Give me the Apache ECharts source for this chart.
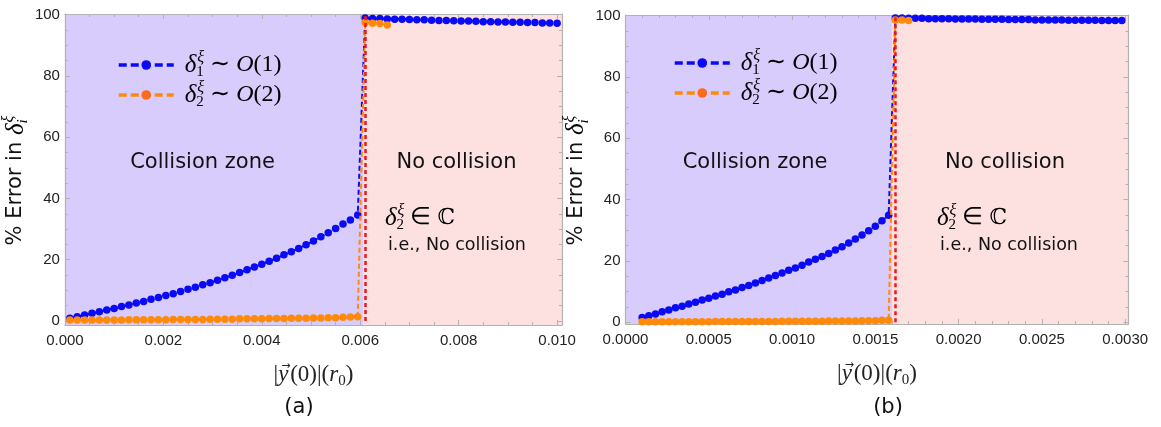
<!DOCTYPE html>
<html>
<head>
<meta charset="utf-8">
<script src="https://cdn.jsdelivr.net/npm/echarts@6/dist/echarts.min.js"></script>
<style>
html,body{margin:0;padding:0;background:#fff;}
#chart{width:1161px;height:427px;}
</style>
</head>
<body>
<div id="chart"></div>
<script>
// ---------------- DATA ----------------
// Panel (a): collision zone x-values and errors
var xA_col = [0.0001,0.00025,0.0004,0.00055,0.0007,0.00085,0.001,0.00115,0.0013,0.00145,0.0016,0.00175,0.0019,0.00205,0.0022,0.00235,0.0025,0.00265,0.0028,0.00295,0.0031,0.00325,0.0034,0.00355,0.0037,0.00385,0.004,0.00415,0.0043,0.00445,0.0046,0.00475,0.0049,0.00505,0.0052,0.00535,0.0055,0.00565,0.0058,0.00595];
var blueA_col = [0.9,1.4,2.0,2.5,3.0,3.6,4.1,4.7,5.2,5.9,6.4,7.1,7.7,8.3,8.9,9.6,10.4,11.0,11.8,12.5,13.3,14.1,14.9,15.8,16.7,17.6,18.5,19.5,20.5,21.6,22.6,23.7,24.9,26.1,27.5,28.8,30.2,31.7,33.0,34.6];
var orangeA_col = [0.3,0.3,0.3,0.3,0.3,0.3,0.3,0.3,0.4,0.4,0.4,0.4,0.4,0.4,0.5,0.5,0.5,0.5,0.5,0.6,0.6,0.6,0.6,0.7,0.7,0.7,0.7,0.8,0.8,0.8,0.9,0.9,0.9,1.0,1.0,1.1,1.1,1.2,1.3,1.4];
// Panel (a): no-collision region
var xA_nc = [0.0061,0.00625,0.0064,0.00655,0.0067,0.00685,0.007,0.00715,0.0073,0.00745,0.0076,0.00775,0.0079,0.00805,0.0082,0.00835,0.0085,0.00865,0.0088,0.00895,0.0091,0.00925,0.0094,0.00955,0.0097,0.00985,0.01];
var blueA_nc = [98.9,98.7,98.7,98.6,98.5,98.5,98.4,98.3,98.3,98.2,98.1,98.1,98.0,97.9,97.9,97.8,97.7,97.7,97.6,97.6,97.5,97.5,97.4,97.4,97.3,97.3,97.2];
var orangeA_nc = [97.4,97.2,97.1,96.6];
var zoneA = 0.00607;      // end of collision zone (a)
var redA = 0.0061;        // red dashed boundary (a)

// Panel (b)
var xB_col = [0.0001,0.00014,0.00018,0.00022,0.00026,0.0003,0.00034,0.00038,0.00042,0.00046,0.0005,0.00054,0.00058,0.00062,0.00066,0.0007,0.00074,0.00078,0.00082,0.00086,0.0009,0.00094,0.00098,0.00102,0.00106,0.0011,0.00114,0.00118,0.00122,0.00126,0.0013,0.00134,0.00138,0.00142,0.00146,0.0015,0.00154,0.00158];
var blueB_col = [1.5,2.1,2.7,3.4,4.0,4.7,5.2,5.9,6.5,7.2,7.8,8.5,9.1,9.9,10.5,11.3,12.0,12.8,13.6,14.4,15.2,16.0,16.9,17.7,18.6,19.6,20.5,21.4,22.4,23.5,24.6,25.8,27.1,28.4,29.8,31.3,33.1,34.9];
var orangeB_col = [0.1,0.1,0.1,0.1,0.1,0.1,0.1,0.1,0.1,0.1,0.1,0.2,0.2,0.2,0.2,0.2,0.2,0.2,0.2,0.2,0.2,0.3,0.3,0.3,0.3,0.3,0.3,0.3,0.4,0.4,0.4,0.4,0.4,0.5,0.5,0.5,0.6,0.6];
var xB_nc = [0.00162,0.00166,0.0017,0.00174,0.00178,0.00182,0.00186,0.0019,0.00194,0.00198,0.00202,0.00206,0.0021,0.00214,0.00218,0.00222,0.00226,0.0023,0.00234,0.00238,0.00242,0.00246,0.0025,0.00254,0.00258,0.00262,0.00266,0.0027,0.00274,0.00278,0.00282,0.00286,0.0029,0.00294,0.00298];
var blueB_nc = [99.2,99.2,99.1,99.1,99.1,99.0,99.0,99.0,99.0,98.9,98.9,98.9,98.9,98.8,98.8,98.8,98.8,98.7,98.7,98.7,98.7,98.6,98.6,98.6,98.6,98.6,98.5,98.5,98.5,98.5,98.5,98.4,98.4,98.4,98.4];
var orangeB_nc = [98.6,98.6,98.4];
var zoneB = 0.0016;
var redB = 0.00162;

// Tick labels
var xTicksA = [0, 0.002, 0.004, 0.006, 0.008, 0.010];
var xTicksB = [0, 0.0005, 0.0010, 0.0015, 0.0020, 0.0025, 0.0030];
var yTicks = [0, 20, 40, 60, 80, 100];
var seriesNames = ['d1', 'd2'];

// ---------------- STYLE ----------------
var BLUE = '#0a0af5', ORANGE = '#ff8a0a', ORANGE_LEG = '#ff6a1a', RED = '#f0141e';
var PURPLE = '#d7ccfb', PINK = '#fde1e1', FRAME = '#b2b2b2';
var rangeA = {xmin: 0, xmax: 0.0101, ymin: -1.3, ymax: 100.2};
var rangeB = {xmin: 0, xmax: 0.00302, ymin: -0.6, ymax: 100.2};

function steps(a, b, st, skip) {
  var out = [];
  var n = Math.round((b - a) / st);
  for (var i = 0; i <= n; i++) {
    var v = +(a + i * st).toFixed(8);
    var isMajor = skip.some(function (m) { return Math.abs(m - v) < st * 1e-3; });
    if (!isMajor) out.push(v);
  }
  return out;
}
var xMinorA = steps(0, 0.010, 0.0005, xTicksA);
var xMinorB = steps(0, 0.003, 0.0001, xTicksB);
var yMinor = steps(0, 100, 5, yTicks);

var mathRich = {
  d: {fontFamily: 'Liberation Serif', fontStyle: 'italic', fontSize: 25, lineHeight: 30, align: 'left', color: '#000'},
  sb: {fontFamily: 'Liberation Serif', fontSize: 15, lineHeight: 22, verticalAlign: 'bottom', width: 1, align: 'left', color: '#000'},
  sbi: {fontFamily: 'Liberation Serif', fontStyle: 'italic', fontSize: 15, lineHeight: 22, verticalAlign: 'bottom', width: 1, align: 'left', color: '#000'},
  sp: {fontFamily: 'Liberation Serif', fontStyle: 'italic', fontSize: 16, lineHeight: 13, verticalAlign: 'top', align: 'left', color: '#000'},
  t: {fontFamily: 'Liberation Serif', fontSize: 24, lineHeight: 30, align: 'left', color: '#000'},
  o: {fontFamily: 'Liberation Serif', fontStyle: 'italic', fontSize: 24, lineHeight: 30, align: 'left', color: '#000'}
};

function xAxesFor(grid, r, majors, minors, dec) {
  var base = {type: 'value', gridIndex: grid, min: r.xmin, max: r.xmax, splitLine: {show: false}};
  var lbl = {show: true, customValues: majors, formatter: function (v) { return v.toFixed(dec); },
             fontFamily: 'Liberation Sans', fontSize: 15, color: '#222', margin: 8};
  return [
    Object.assign({}, base, {position: 'bottom',
      axisLine: {show: true, onZero: false, lineStyle: {color: FRAME, width: 1.2}},
      axisTick: {show: true, inside: true, length: 5, customValues: majors, lineStyle: {color: FRAME}},
      axisLabel: lbl,
      name: '{m||}{vn|y}{ar|→}{m|(0)|(}{v|r}{s|0}{m|)}', nameLocation: 'middle', nameGap: 36,
      nameTextStyle: {rich: {
        m: {fontFamily: 'Liberation Serif', fontSize: 23, color: '#222', lineHeight: 28, align: 'left'},
        vn: {fontFamily: 'Liberation Serif', fontStyle: 'italic', fontSize: 23, color: '#222', lineHeight: 28, width: 1, align: 'left'},
        ar: {fontFamily: 'DejaVu Sans', fontSize: 11, color: '#222', lineHeight: 14, verticalAlign: 'top', width: 9, align: 'left', padding: [0, 0, 0, 2]},
        v: {fontFamily: 'Liberation Serif', fontStyle: 'italic', fontSize: 23, color: '#222', lineHeight: 28, align: 'left'},
        s: {fontFamily: 'Liberation Serif', fontSize: 15, color: '#222', lineHeight: 20, verticalAlign: 'bottom', align: 'left'}
      }}}),
    Object.assign({}, base, {position: 'bottom',
      axisLine: {show: false, onZero: false},
      axisTick: {show: true, inside: true, length: 3, customValues: minors, lineStyle: {color: FRAME}},
      axisLabel: {show: false}}),
    Object.assign({}, base, {position: 'top',
      axisLine: {show: true, onZero: false, lineStyle: {color: FRAME, width: 1.2}},
      axisTick: {show: true, inside: true, length: 5, customValues: majors, lineStyle: {color: FRAME}},
      axisLabel: {show: false}}),
    Object.assign({}, base, {position: 'top',
      axisLine: {show: false, onZero: false},
      axisTick: {show: true, inside: true, length: 3, customValues: minors, lineStyle: {color: FRAME}},
      axisLabel: {show: false}})
  ];
}
function yAxesFor(grid, r) {
  var base = {type: 'value', gridIndex: grid, min: r.ymin, max: r.ymax, splitLine: {show: false}};
  return [
    Object.assign({}, base, {position: 'left',
      axisLine: {show: true, onZero: false, lineStyle: {color: FRAME, width: 1.2}},
      axisTick: {show: true, inside: true, length: 5, customValues: yTicks, lineStyle: {color: FRAME}},
      axisLabel: {show: true, customValues: yTicks, fontFamily: 'Liberation Sans', fontSize: 15, color: '#222', margin: 5},
      name: '{a|% Error in }{d|δ}{sbi|i}{sp|ξ}', nameLocation: 'middle', nameGap: 27,
      nameTextStyle: {padding: [0, 22, 0, 0], rich: {
        a: {fontFamily: 'DejaVu Sans', fontSize: 21, color: '#111', lineHeight: 30, align: 'left'},
        d: mathRich.d, sbi: mathRich.sbi, sp: mathRich.sp
      }}}),
    Object.assign({}, base, {position: 'left',
      axisLine: {show: false, onZero: false},
      axisTick: {show: true, inside: true, length: 3, customValues: yMinor, lineStyle: {color: FRAME}},
      axisLabel: {show: false}}),
    Object.assign({}, base, {position: 'right',
      axisLine: {show: true, onZero: false, lineStyle: {color: FRAME, width: 1.2}},
      axisTick: {show: true, inside: true, length: 5, customValues: yTicks, lineStyle: {color: FRAME}},
      axisLabel: {show: false}}),
    Object.assign({}, base, {position: 'right',
      axisLine: {show: false, onZero: false},
      axisTick: {show: true, inside: true, length: 3, customValues: yMinor, lineStyle: {color: FRAME}},
      axisLabel: {show: false}})
  ];
}

function pairs(xs, ys) { return ys.map(function (y, i) { return [xs[i], y]; }); }

function panelSeries(axisIdx, r, xCol, bCol, oCol, xNc, bNc, oNc, zone, red) {
  var lineCommon = {type: 'line', xAxisIndex: axisIdx, yAxisIndex: axisIdx, symbol: 'circle', symbolSize: 7.5,
                    animation: false, silent: true, clip: false};
  return [
    Object.assign({}, lineCommon, {name: seriesNames[0], z: 3,
      data: pairs(xCol.concat(xNc), bCol.concat(bNc)),
      itemStyle: {color: BLUE}, lineStyle: {color: BLUE, width: 2, type: [5, 3]},
      markArea: {silent: true, z: 0, data: [
        [{xAxis: r.xmin, yAxis: r.ymin, itemStyle: {color: PURPLE}}, {xAxis: zone, yAxis: r.ymax}],
        [{xAxis: zone, yAxis: r.ymin, itemStyle: {color: PINK}}, {xAxis: r.xmax, yAxis: r.ymax}]
      ]}}),
    Object.assign({}, lineCommon, {name: seriesNames[1], z: 4,
      data: pairs(xCol.concat(xNc.slice(0, oNc.length)), oCol.concat(oNc)),
      itemStyle: {color: ORANGE}, lineStyle: {color: ORANGE, width: 2, type: [5, 3]},
      markLine: {silent: true, symbol: 'none', label: {show: false}, z: 5,
        lineStyle: {color: RED, width: 2.5, type: [4, 3]},
        data: [[{coord: [red, 0]}, {coord: [red, 100]}]]}})
  ];
}

function legendFmt(name) {
  return name === 'd1'
    ? '{d|δ}{sb|1}{sp|ξ}{t| ∼ }{o|O}{t|(1)}'
    : '{d|δ}{sb|2}{sp|ξ}{t| ∼ }{o|O}{t|(2)}';
}
function legendFor(left, top) {
  return {left: left, top: top, orient: 'vertical', itemWidth: 55, itemHeight: 12, itemGap: 0,
    selectedMode: false, formatter: legendFmt, z: 20,
    lineStyle: {width: 3.5, type: [8, 4]},
    data: [{name: 'd1'}, {name: 'd2', itemStyle: {color: ORANGE_LEG}}],
    textStyle: {rich: mathRich, padding: [0, 0, 0, 6]}};
}

function txt(x, y, s, size, align) {
  return {type: 'text', x: x, y: y, silent: true, z: 100,
    style: {text: s, fontFamily: 'DejaVu Sans', fontSize: size, fill: '#111', align: align || 'center', verticalAlign: 'middle'}};
}
function mathTxt(x, y) {
  return {type: 'text', x: x, y: y, silent: true, z: 100,
    style: {text: '{d|δ}{sb|2}{sp|ξ}{t| ∈ }{c|ℂ}', align: 'left', verticalAlign: 'middle',
      rich: Object.assign({}, mathRich, {c: {fontFamily: 'DejaVu Serif', fontSize: 22, lineHeight: 30, align: 'left', color: '#000'}})}};
}

var chart = echarts.init(document.getElementById('chart'), null, {renderer: 'canvas'});
chart.setOption({
  animation: false,
  backgroundColor: '#ffffff',
  grid: [
    {left: 59, top: 14, width: 503, height: 311},
    {left: 625.5, top: 15, width: 503, height: 309}
  ],
  xAxis: xAxesFor(0, rangeA, xTicksA, xMinorA, 3).concat(xAxesFor(1, rangeB, xTicksB, xMinorB, 4)),
  yAxis: yAxesFor(0, rangeA).concat(yAxesFor(1, rangeB)),
  legend: [legendFor(112, 45), legendFor(668, 43)],
  series: panelSeries(0, rangeA, xA_col, blueA_col, orangeA_col, xA_nc, blueA_nc, orangeA_nc, zoneA, redA)
    .concat(panelSeries(4, rangeB, xB_col, blueB_col, orangeB_col, xB_nc, blueB_nc, orangeB_nc, zoneB, redB)),
  graphic: {elements: [
    txt(202.5, 163, 'Collision zone', 21),
    txt(456.5, 163, 'No collision', 21),
    mathTxt(385, 218),
    txt(388, 245, 'i.e., No collision', 17.5, 'left'),
    txt(755, 163, 'Collision zone', 21),
    txt(1005, 163, 'No collision', 21),
    mathTxt(937, 218),
    txt(940, 245, 'i.e., No collision', 17.5, 'left'),
    txt(299, 408, '(a)', 21),
    txt(888, 408, '(b)', 21)
  ]}
});
</script>
</body>
</html>
